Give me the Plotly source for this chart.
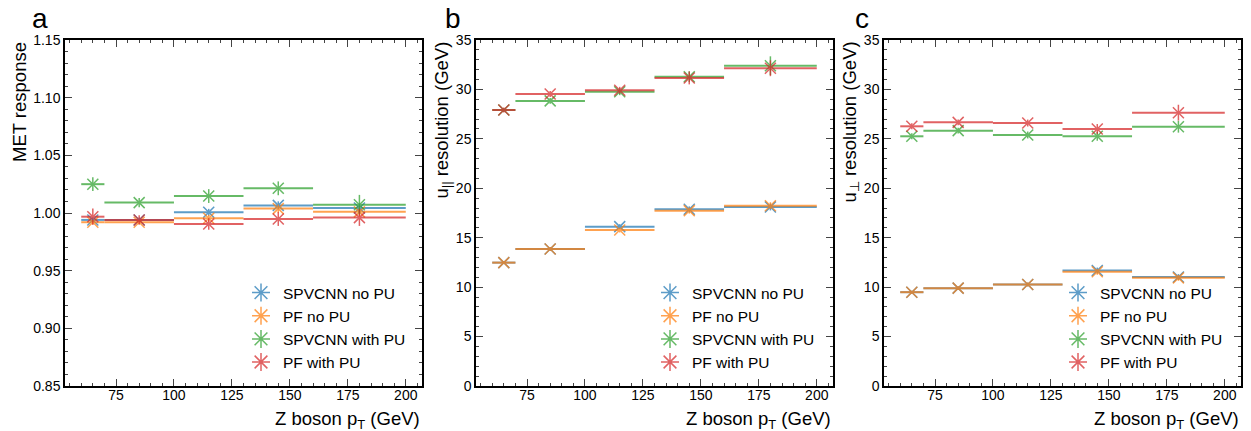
import plotly.graph_objects as go

W, H = 1251, 431

bin_lo = [60, 70, 100, 130, 160]
bin_hi = [70, 100, 130, 160, 200]
centers = [65, 85, 115, 145, 180]

series_names = ["SPVCNN no PU", "PF no PU", "SPVCNN with PU", "PF with PU"]
colors = ["#1f77b4", "#ff7f0e", "#2ca02c", "#d62728"]

# panel a: MET response
resp_spv_nopu = [0.994, 0.994, 1.0006, 1.0066, 1.0043]
resp_pf_nopu = [0.992, 0.992, 0.9954, 1.0038, 1.001]
resp_spv_pu = [1.025, 1.009, 1.0147, 1.0214, 1.0072]
resp_pf_pu = [0.9968, 0.994, 0.9905, 0.9948, 0.996]
resp_err_spv_nopu = [0.002, 0.002, 0.003, 0.0035, 0.004]
resp_err_pf_nopu = [0.002, 0.002, 0.003, 0.0035, 0.004]
resp_err_spv_pu = [0.006, 0.004, 0.006, 0.006, 0.0085]
resp_err_pf_pu = [0.007, 0.004, 0.005, 0.006, 0.0072]

# panel b: u_par resolution
upar_spv_nopu = [12.48, 13.86, 16.12, 17.87, 18.11]
upar_pf_nopu = [12.48, 13.86, 15.78, 17.74, 18.24]
upar_spv_pu = [27.92, 28.84, 29.77, 31.29, 32.40]
upar_pf_pu = [27.92, 29.54, 29.91, 31.16, 32.14]
upar_err_spv_nopu = [0.15, 0.2, 0.25, 0.3, 0.35]
upar_err_pf_nopu = [0.15, 0.2, 0.25, 0.3, 0.35]
upar_err_spv_pu = [0.2, 0.3, 0.35, 0.55, 0.95]
upar_err_pf_pu = [0.25, 0.3, 0.35, 0.65, 0.8]

# panel c: u_perp resolution
uperp_spv_nopu = [9.49, 9.9, 10.27, 11.68, 11.02]
uperp_pf_nopu = [9.49, 9.9, 10.27, 11.55, 10.94]
uperp_spv_pu = [25.26, 25.83, 25.39, 25.26, 26.23]
uperp_pf_pu = [26.27, 26.67, 26.6, 26.0, 27.65]
uperp_err_spv_nopu = [0.15, 0.2, 0.2, 0.3, 0.3]
uperp_err_pf_nopu = [0.15, 0.2, 0.2, 0.3, 0.3]
uperp_err_spv_pu = [0.3, 0.3, 0.35, 0.45, 0.6]
uperp_err_pf_pu = [0.3, 0.3, 0.35, 0.5, 0.8]

panels = [
    dict(vals=[resp_spv_nopu, resp_pf_nopu, resp_spv_pu, resp_pf_pu],
         errs=[resp_err_spv_nopu, resp_err_pf_nopu, resp_err_spv_pu, resp_err_pf_pu],
         yrange=[0.85, 1.15], dtick=0.05, minor=0.01, fmt=".2f",
         ytitle="MET response", label="a"),
    dict(vals=[upar_spv_nopu, upar_pf_nopu, upar_spv_pu, upar_pf_pu],
         errs=[upar_err_spv_nopu, upar_err_pf_nopu, upar_err_spv_pu, upar_err_pf_pu],
         yrange=[0, 35], dtick=5, minor=1, fmt="d",
         ytitle="u<sub>||</sub> resolution (GeV)", label="b"),
    dict(vals=[uperp_spv_nopu, uperp_pf_nopu, uperp_spv_pu, uperp_pf_pu],
         errs=[uperp_err_spv_nopu, uperp_err_pf_nopu, uperp_err_spv_pu, uperp_err_pf_pu],
         yrange=[0, 35], dtick=5, minor=1, fmt="d",
         ytitle="u<sub>⊥</sub> resolution (GeV)", label="c"),
]

xpix = [(65, 422), (476, 833), (884, 1241)]
ytop, ybot = 40, 386
FONT = "Liberation Sans, Arial, Helvetica, sans-serif"

fig = go.Figure()
err_lo = [c - lo for c, lo in zip(centers, bin_lo)]
err_hi = [hi - c for c, hi in zip(centers, bin_hi)]

layout = dict(width=W, height=H, margin=dict(l=0, r=0, t=0, b=0),
              paper_bgcolor="white", plot_bgcolor="white",
              font=dict(family=FONT, size=15, color="black"),
              annotations=[])

for i, p in enumerate(panels):
    sfx = "" if i == 0 else str(i + 1)
    xa, ya = "x" + sfx, "y" + sfx
    leg = "legend" + sfx
    for k in range(4):
        fig.add_trace(go.Scatter(
            x=centers, y=p["vals"][k], xaxis=xa, yaxis=ya, mode="markers",
            showlegend=False, opacity=0.72,
            marker=dict(symbol="x-thin", size=11, color=colors[k],
                        line=dict(width=1.5, color=colors[k])),
            error_x=dict(type="data", symmetric=False, array=err_hi, arrayminus=err_lo,
                         width=0, thickness=2, color=colors[k]),
            error_y=dict(type="data", array=p["errs"][k], width=0, thickness=1.5,
                         color=colors[k]),
        ))
    for k in range(4):
        fig.add_trace(go.Scatter(
            x=[None], y=[None], xaxis=xa, yaxis=ya, mode="markers", name=series_names[k],
            legend=leg, showlegend=True, opacity=0.72,
            marker=dict(symbol="asterisk", size=15, color=colors[k],
                        line=dict(width=1.5, color=colors[k])),
        ))
    x0, x1 = xpix[i]
    dom_x = [x0 / W, x1 / W]
    dom_y = [1 - ybot / H, 1 - ytop / H]
    common = dict(showline=True, linecolor="black", linewidth=1.5, mirror="allticks",
                  ticks="inside", ticklen=7, tickwidth=1, tickcolor="#444",
                  showgrid=False, zeroline=False, automargin=False,
                  tickfont=dict(size=14, family=FONT))
    layout["xaxis" + sfx] = dict(domain=dom_x, range=[53, 207], tickmode="linear",
                                 tick0=75, dtick=25, anchor=ya, ticklabelstandoff=-5,
                                 minor=dict(ticks="inside", ticklen=3.5, dtick=5, tick0=0,
                                            tickcolor="#444", showgrid=False),
                                 **common)
    layout["yaxis" + sfx] = dict(domain=dom_y, range=p["yrange"], tickmode="linear",
                                 tick0=p["yrange"][0], dtick=p["dtick"], anchor=xa,
                                 tickformat=p["fmt"],
                                 minor=dict(ticks="inside", ticklen=3.5, dtick=p["minor"],
                                            tick0=0, tickcolor="#444", showgrid=False),
                                 **common)
    leg_x = [239, 648, 1056][i]
    layout[leg] = dict(x=leg_x / W, y=1 - 276 / H, xanchor="left", yanchor="top",
                       bgcolor="rgba(0,0,0,0)", font=dict(size=15.5, family=FONT),
                       itemwidth=34, tracegroupgap=0)
    # y title
    ytx = [19, 442, 850][i]
    layout["annotations"].append(dict(
        text=p["ytitle"], xref="paper", yref="paper", x=ytx / W, y=1 - ytop / H,
        xanchor="center", yanchor="top", textangle=-90, showarrow=False,
        font=dict(size=18.5, family=FONT)))
    # x title
    layout["annotations"].append(dict(
        text="Z boson p<sub>T</sub> (GeV)", xref="paper", yref="paper", x=x1 / W,
        y=1 - 420 / H, xanchor="right", yanchor="middle", showarrow=False,
        font=dict(size=18.5, family=FONT)))
    # panel label
    lx = [30, 443, 853][i]
    layout["annotations"].append(dict(
        text=p["label"], xref="paper", yref="paper", x=lx / W, y=1 - 18 / H,
        xanchor="left", yanchor="middle", showarrow=False,
        font=dict(size=28, family=FONT)))

fig.update_layout(**layout)
fig.write_html("out.html")
